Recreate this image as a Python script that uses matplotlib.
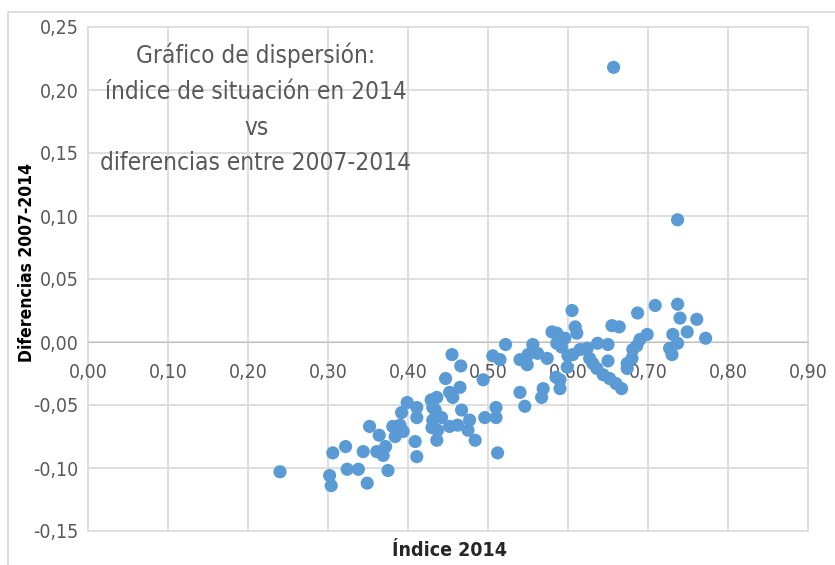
import matplotlib
matplotlib.use("Agg")
from matplotlib import pyplot as plt
from matplotlib.ticker import FuncFormatter
from matplotlib.patches import Rectangle

# indice 2014 (x) y diferencias 2007-2014 (y)
indice_2014 = [
    0.240, 0.302, 0.304, 0.306, 0.322, 0.324, 0.338, 0.349, 0.344, 0.352,
    0.364, 0.361, 0.369, 0.372, 0.375, 0.381, 0.384, 0.392, 0.394, 0.399,
    0.411, 0.411, 0.409, 0.411, 0.390, 0.429, 0.431, 0.434, 0.431, 0.430,
    0.437, 0.436, 0.436, 0.447, 0.452, 0.465, 0.456, 0.442, 0.452, 0.467,
    0.462, 0.477, 0.475, 0.484, 0.455, 0.466, 0.496, 0.510, 0.510, 0.512,
    0.494, 0.506, 0.515, 0.522, 0.540, 0.550, 0.556, 0.549, 0.562, 0.574,
    0.540, 0.546, 0.569, 0.567, 0.580, 0.586, 0.586, 0.596, 0.605, 0.609,
    0.611, 0.590, 0.590, 0.592, 0.600, 0.599, 0.606, 0.615, 0.624, 0.627,
    0.631, 0.636, 0.644, 0.652, 0.660, 0.667, 0.637, 0.650, 0.655, 0.664,
    0.650, 0.674, 0.674, 0.681, 0.686, 0.690, 0.699, 0.687, 0.709, 0.737,
    0.740, 0.761, 0.749, 0.731, 0.737, 0.727, 0.730, 0.772, 0.737, 0.657,
    0.680, 0.585,
]
diferencias = [
    -0.103, -0.106, -0.114, -0.088, -0.083, -0.101, -0.101, -0.112, -0.087, -0.067,
    -0.074, -0.087, -0.090, -0.083, -0.102, -0.067, -0.075, -0.056, -0.071, -0.048,
    -0.052, -0.060, -0.079, -0.091, -0.066, -0.046, -0.052, -0.054, -0.062, -0.068,
    -0.070, -0.078, -0.044, -0.029, -0.040, -0.036, -0.044, -0.060, -0.067, -0.054,
    -0.066, -0.062, -0.070, -0.078, -0.010, -0.019, -0.060, -0.052, -0.060, -0.088,
    -0.030, -0.011, -0.014, -0.002, -0.014, -0.010, -0.002, -0.018, -0.009, -0.013,
    -0.040, -0.051, -0.037, -0.044, 0.008, 0.007, -0.001, 0.003, 0.025, 0.012,
    0.007, -0.030, -0.037, -0.004, -0.011, -0.020, -0.010, -0.006, -0.005, -0.013,
    -0.017, -0.021, -0.026, -0.029, -0.033, -0.037, -0.001, -0.002, 0.013, 0.012,
    -0.015, -0.017, -0.021, -0.006, -0.003, 0.002, 0.006, 0.023, 0.029, 0.030,
    0.019, 0.018, 0.008, 0.006, -0.001, -0.005, -0.010, 0.003, 0.097, 0.218,
    -0.013, -0.028,
]

x_ticks = [0.0, 0.1, 0.2, 0.3, 0.4, 0.5, 0.6, 0.7, 0.8, 0.9]
y_ticks = [-0.15, -0.10, -0.05, 0.0, 0.05, 0.10, 0.15, 0.20, 0.25]

titulo = "Gráfico de dispersión:\níndice de situación en 2014\nvs\ndiferencias entre 2007-2014"

plt.rcParams['font.family'] = ['DejaVu Sans']
plt.rcParams['font.stretch'] = 'condensed'
gris = '#595959'
grid_col = '#d9d9d9'

fig = plt.figure(figsize=(8.35, 5.65), dpi=100, facecolor='w')
ax = fig.add_axes([88 / 835, 1 - 531 / 565, 720 / 835, 504 / 565])

ax.scatter(indice_2014, diferencias, s=90, color='#5b9bd5', edgecolors='none', zorder=3)

ax.set_xlim(0, 0.9)
ax.set_ylim(-0.15, 0.25)
ax.set_xticks(x_ticks)
ax.set_yticks(y_ticks)
coma = FuncFormatter(lambda v, p: ('%.2f' % v).replace('.', ','))
ax.xaxis.set_major_formatter(coma)
ax.yaxis.set_major_formatter(coma)
ax.grid(True, color=grid_col, linewidth=1.2, zorder=0)
ax.set_axisbelow(True)
for s in ['top', 'right', 'left']:
    ax.spines[s].set_visible(False)
ax.spines['bottom'].set_position(('data', 0))
ax.spines['bottom'].set_color('#bfbfbf')
ax.tick_params(axis='both', length=0, labelsize=14, labelcolor=gris)
ax.tick_params(axis='x', pad=15)
ax.tick_params(axis='y', pad=7)
for gl in ax.get_xgridlines() + ax.get_ygridlines():
    gl.set_clip_on(False)

ax.text(0.21, 0.185, titulo, ha='center', va='center', fontsize=17.5,
        color=gris, linespacing=1.62)

fig.text(27 / 835, 1 - 262 / 565, 'Diferencias 2007-2014', rotation=90,
         ha='center', va='center', fontsize=12.5, fontweight='bold', color='black')
fig.text(450 / 835, 1 - 550 / 565, 'Índice 2014', ha='center', va='center',
         fontsize=14, fontweight='bold', color='#262626')

fig.patches.append(Rectangle((8 / 835, -0.01), 1.0, 1 - 12 / 565 + 0.01,
                             transform=fig.transFigure, fill=False,
                             edgecolor=grid_col, linewidth=1.2))

fig.savefig('out.png', dpi=100)
